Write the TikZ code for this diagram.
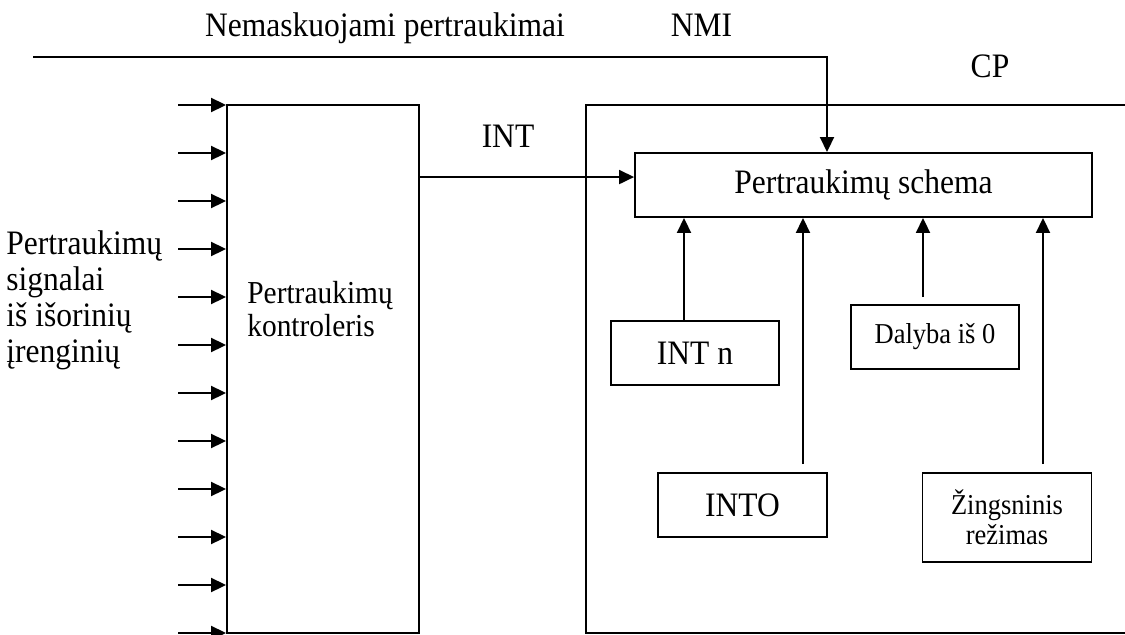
\documentclass[tikz,border=0pt]{standalone}
\usepackage{fontspec}
\setmainfont{Liberation Serif}[FakeStretch=0.92]
\usetikzlibrary{arrows.meta}

\tikzset{
  sig/.style={-{Triangle[length=0.3cm,width=0.28cm]}, line width=1.1pt},
  blk/.style={draw, line width=1.1pt, inner sep=0pt, align=center},
  big/.style={font=\fontsize{19.5}{20.5}\selectfont},
  small/.style={font=\fontsize{16.4}{16.8}\selectfont},
  lbl/.style={inner sep=0pt, big}
}

\begin{document}
\begin{tikzpicture}[x=0.02cm, y=-0.02cm]
\useasboundingbox (0,0) rectangle (1125,635);

% labels on top
\node[lbl, anchor=base] (nmitext) at (385,37) {Nemaskuojami pertraukimai};
\node[lbl, anchor=base] (nmi) at (701.5,37) {NMI};
\node[lbl, anchor=base] (cp) at (990,78) {CP};
\node[lbl, anchor=base] (int) at (508,147) {INT};

% controller
\node[blk, minimum width=3.84cm, minimum height=10.56cm] (ctrl) at (323,369) {};
\node[lbl, font=\fontsize{18.2}{18.9}\selectfont, align=left, anchor=west] (ctrltext) at (247,309) {Pertraukimų\\kontroleris};

\node[lbl, align=left, anchor=west] (sigtext) at (6,300) {Pertraukimų\\signalai\\iš išorinių\\įrenginių};

\foreach \k in {0,...,11} {
  \coordinate (in\k) at (178,105+48*\k);
  \draw[sig] (in\k) -- (in\k -| ctrl.west);
}

% processor
\draw[line width=1.1pt] (1130,105) -| (586,633) -- (1130,633);

\node[blk, big, minimum width=9.14cm, minimum height=1.28cm] (schema) at (863.5,185) {Pertraukimų schema};
\node[blk, big, minimum width=3.36cm, minimum height=1.28cm] (intn) at (695,353) {INT n};
\node[blk, big, minimum width=3.38cm, minimum height=1.28cm] (into) at (742.5,505) {INTO};
\node[blk, small, minimum width=3.36cm, minimum height=1.28cm] (dal) at (935,337) {Dalyba iš 0};
\node[blk, small, minimum width=3.38cm, minimum height=1.78cm] (zing) at (1007,517.5) {Žingsninis\\režimas};

\coordinate (nmistart) at (33,57);
\coordinate (nmidrop) at (827,57);
\draw[sig] (nmistart) -- (nmidrop) -- (nmidrop |- schema.north);

\coordinate (intout) at ([yshift=3.84cm]ctrl.east);
\draw[sig] (intout) -- (intout -| schema.west);

\foreach \n/\dx/\gap in {intn/-0.22/0, into/1.21/0.16, dal/-0.24/0.14, zing/0.72/0.16} {
  \coordinate (up\n) at ([xshift=\dx cm, yshift=\gap cm]\n.north);
  \draw[sig] (up\n) -- (up\n |- schema.south);
}

\end{tikzpicture}
\end{document}
